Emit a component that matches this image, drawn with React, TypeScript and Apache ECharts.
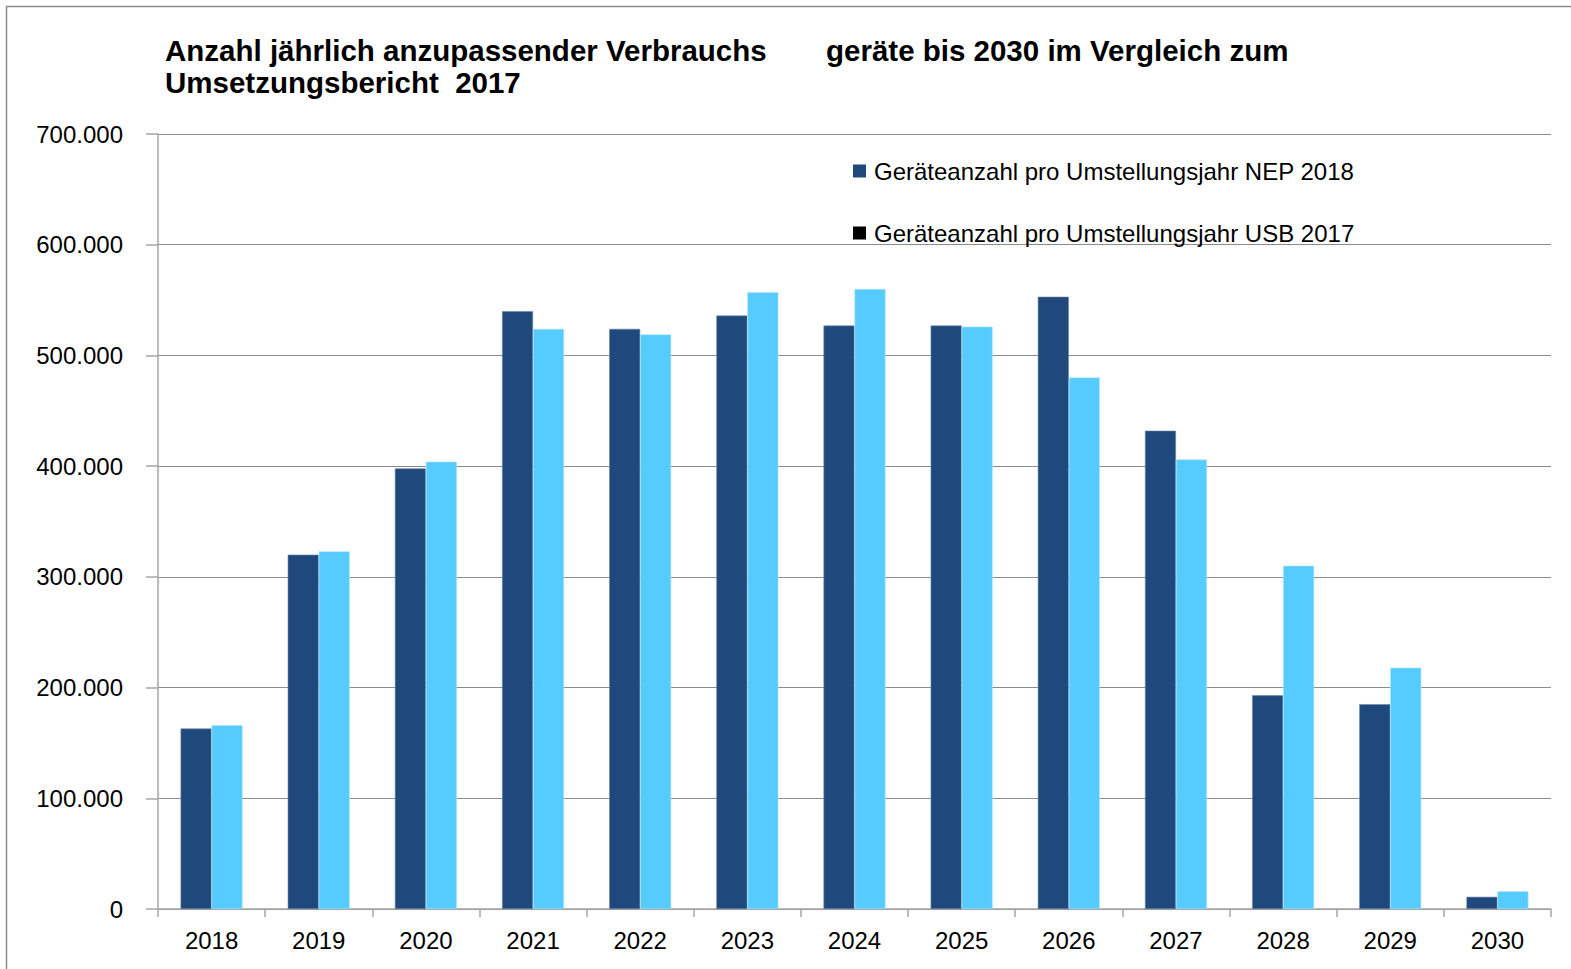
import React, { useEffect, useRef } from "react";
import * as echarts from "echarts";

const categories = ["2018", "2019", "2020", "2021", "2022", "2023", "2024", "2025", "2026", "2027", "2028", "2029", "2030"];
const nep2018 = [163000, 320000, 398000, 540000, 524000, 536000, 527000, 527000, 553000, 432000, 193000, 185000, 11000];
const usb2017 = [166000, 323000, 404000, 524000, 519000, 557000, 560000, 526000, 480000, 406000, 310000, 218000, 16000];
const seriesNames = ["Geräteanzahl pro Umstellungsjahr NEP 2018", "Geräteanzahl pro Umstellungsjahr USB 2017"];

const FONT = "'Liberation Sans', Arial, sans-serif";

export default function App() {
  const ref = useRef<HTMLDivElement>(null);
  useEffect(() => {
    if (!ref.current) return;
    const chart = echarts.init(ref.current, null, { renderer: "svg" });
    const fmt = (v: number) => String(v).replace(/\B(?=(\d{3})+(?!\d))/g, ".");
    const titleStyle = { fontFamily: FONT, fontWeight: "bold", fontSize: 29.5, color: "#000", lineHeight: 32 };
    chart.setOption({
      animation: false,
      backgroundColor: "#ffffff",
      textStyle: { fontFamily: FONT },
      title: [
        {
          text: "Anzahl jährlich anzupassender Verbrauchs\nUmsetzungsbericht  2017",
          left: 165,
          top: 34,
          padding: 0,
          textStyle: titleStyle,
        },
        {
          text: "geräte bis 2030 im Vergleich zum",
          left: 826,
          top: 34,
          padding: 0,
          textStyle: titleStyle,
        },
      ],
      legend: {
        orient: "vertical",
        left: 853,
        top: 159,
        padding: 0,
        itemGap: 38,
        itemWidth: 13,
        itemHeight: 13,
        icon: "rect",
        textStyle: { fontFamily: FONT, fontSize: 24, lineHeight: 24, color: "#000", padding: [0, 0, 0, 3] },
        data: [
          { name: seriesNames[0], itemStyle: { color: "#1F497D", borderWidth: 0 } },
          { name: seriesNames[1], itemStyle: { color: "#000000", borderWidth: 0 } },
        ],
      },
      grid: { left: 158, right: 20, top: 134, bottom: 60, containLabel: false },
      xAxis: {
        type: "category",
        data: categories,
        axisLine: { lineStyle: { color: "#a6a6a6", width: 1.5 } },
        axisTick: { show: true, length: 8, lineStyle: { color: "#a6a6a6", width: 1.5 } },
        axisLabel: { fontFamily: FONT, fontSize: 24, color: "#000", margin: 19 },
      },
      yAxis: {
        type: "value",
        min: 0,
        max: 700000,
        interval: 100000,
        axisLine: { show: true, lineStyle: { color: "#a6a6a6", width: 1.5 } },
        axisTick: { show: true, length: 12, lineStyle: { color: "#a6a6a6", width: 1.5 } },
        splitLine: { lineStyle: { color: "#8c8c8c", width: 1.2 } },
        axisLabel: { fontFamily: FONT, fontSize: 24, color: "#000", margin: 35, formatter: fmt },
      },
      series: [
        {
          name: seriesNames[0],
          type: "bar",
          data: nep2018,
          barWidth: 31,
          barGap: "0%",
          itemStyle: { color: "#1F497D", borderColor: "#6b84a6", borderWidth: 0.6 },
        },
        {
          name: seriesNames[1],
          type: "bar",
          data: usb2017,
          barWidth: 31,
          barGap: "0%",
          itemStyle: { color: "#56CBFF", borderColor: "#a9e4ff", borderWidth: 0.6 },
        },
      ],
      graphic: [
        {
          type: "rect",
          shape: { x: 6.5, y: 6.5, width: 1600, height: 1000 },
          style: { fill: "none", stroke: "#8c8c8c", lineWidth: 1.5 },
          silent: true,
          z: 100,
        },
      ],
    });
    return () => chart.dispose();
  }, []);
  return <div ref={ref} style={{ position: "fixed", left: 0, top: 0, width: 1571, height: 969 }} />;
}
